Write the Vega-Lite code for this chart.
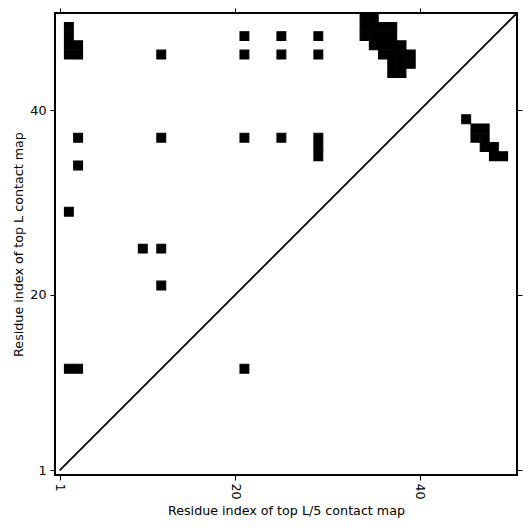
{
  "$schema": "https://vega.github.io/schema/vega-lite/v6.json",
  "width": 462,
  "height": 462,
  "autosize": {"type": "none"},
  "padding": {"left": 55, "top": 13, "right": 14, "bottom": 56},
  "background": "white",
  "config": {
    "view": {"stroke": "black", "strokeWidth": 2},
    "font": "DejaVu Sans",
    "axis": {
      "domain": false,
      "grid": false,
      "tickColor": "black",
      "tickSize": 5,
      "tickWidth": 1,
      "labelColor": "black",
      "labelFont": "DejaVu Sans",
      "labelFontSize": 12.7,
      "titleFont": "DejaVu Sans",
      "titleFontSize": 12.7,
      "titleFontWeight": "normal",
      "titleColor": "black",
      "labelPadding": 3
    }
  },
  "layer": [
    {
      "data": {
        "values": [
          {"i": 2, "j": 46}, {"i": 2, "j": 47}, {"i": 2, "j": 48}, {"i": 2, "j": 49},
          {"i": 3, "j": 46}, {"i": 3, "j": 47},
          {"i": 12, "j": 46},
          {"i": 21, "j": 48}, {"i": 21, "j": 46}, {"i": 25, "j": 48}, {"i": 25, "j": 46},
          {"i": 29, "j": 48}, {"i": 29, "j": 46},
          {"i": 3, "j": 37}, {"i": 12, "j": 37}, {"i": 21, "j": 37}, {"i": 25, "j": 37},
          {"i": 29, "j": 35}, {"i": 29, "j": 36}, {"i": 29, "j": 37},
          {"i": 3, "j": 34},
          {"i": 2, "j": 29},
          {"i": 10, "j": 25}, {"i": 12, "j": 25},
          {"i": 12, "j": 21},
          {"i": 2, "j": 12}, {"i": 3, "j": 12}, {"i": 21, "j": 12},
          {"i": 34, "j": 48}, {"i": 34, "j": 49}, {"i": 34, "j": 50},
          {"i": 35, "j": 47}, {"i": 35, "j": 48}, {"i": 35, "j": 49}, {"i": 35, "j": 50},
          {"i": 36, "j": 46}, {"i": 36, "j": 47}, {"i": 36, "j": 48}, {"i": 36, "j": 49},
          {"i": 37, "j": 44}, {"i": 37, "j": 45}, {"i": 37, "j": 46}, {"i": 37, "j": 47}, {"i": 37, "j": 48}, {"i": 37, "j": 49},
          {"i": 38, "j": 44}, {"i": 38, "j": 45}, {"i": 38, "j": 46}, {"i": 38, "j": 47},
          {"i": 39, "j": 45}, {"i": 39, "j": 46},
          {"i": 45, "j": 39},
          {"i": 46, "j": 38}, {"i": 47, "j": 38}, {"i": 46, "j": 37}, {"i": 47, "j": 37},
          {"i": 47, "j": 36}, {"i": 48, "j": 36},
          {"i": 48, "j": 35}, {"i": 49, "j": 35}
        ]
      },
      "mark": {"type": "square", "filled": true, "color": "black", "size": 78, "opacity": 1, "stroke": "black", "strokeWidth": 1.1, "strokeOpacity": 1},
      "encoding": {
        "x": {
          "field": "i", "type": "quantitative",
          "scale": {"domain": [0.5, 50.5], "nice": false, "zero": false},
          "axis": {"orient": "bottom", "values": [1, 20, 40], "labelAngle": 90, "title": "Residue index of top L/5 contact map", "titlePadding": 5}
        },
        "y": {
          "field": "j", "type": "quantitative",
          "scale": {"domain": [0.5, 50.5], "nice": false, "zero": false},
          "axis": {"orient": "left", "values": [1, 20, 40], "title": "Residue index of top L contact map", "titlePadding": 4, "labelPadding": 4}
        }
      }
    },
    {
      "data": {"values": [{"a": 1, "b": 1}, {"a": 50.5, "b": 50.5}]},
      "mark": {"type": "line", "color": "black", "strokeWidth": 1.8},
      "encoding": {
        "x": {"field": "a", "type": "quantitative", "axis": {"orient": "top", "values": [1, 20, 40], "labels": false, "title": null}},
        "y": {"field": "b", "type": "quantitative", "axis": {"orient": "right", "values": [1, 20, 40], "labels": false, "title": null}}
      }
    }
  ],
  "resolve": {"axis": {"x": "independent", "y": "independent"}}
}
